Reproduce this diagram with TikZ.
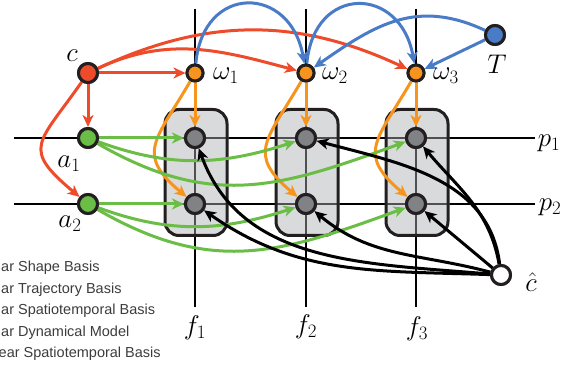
\RequirePackage{fix-cm}
\documentclass[tikz,border=0pt]{standalone}
\usepackage{fontspec}
\newfontfamily\legendfont{Liberation Sans}
\usetikzlibrary{arrows.meta}
\definecolor{cred}{HTML}{EE4B2B}
\definecolor{corange}{HTML}{F7941D}
\definecolor{cgreen}{HTML}{6ABD45}
\definecolor{cblue}{HTML}{4A7BC6}
\definecolor{cgray}{HTML}{808285}
\definecolor{cbox}{HTML}{D9DADB}
\definecolor{cdark}{HTML}{231F20}
\definecolor{cinner}{HTML}{505052}
\definecolor{clegend}{HTML}{3C3C3C}
\tikzset{
  var/.style={circle, draw=cdark, line width=3pt, minimum size=19pt, inner sep=0pt},
  wnode/.style={var, fill=corange, minimum size=16pt},
  obsnode/.style={var, fill=cgray},
  boxnode/.style={rectangle, rounded corners=14pt, draw=cdark, line width=3pt, minimum width=62pt, minimum height=126pt, inner sep=0pt},
  axis/.style={line width=2.2pt, black},
  inner/.style={line width=1.2pt, cinner},
  tip/.style={-{Stealth[length=12pt,width=11pt,inset=3.5pt]}},
  edgered/.style={tip, line width=3pt, cred},
  edgeorange/.style={tip, line width=3pt, corange},
  edgegreen/.style={tip, line width=3pt, cgreen},
  edgeblue/.style={tip, line width=3pt, cblue},
  edgeblack/.style={tip, line width=3pt, black},
  lbl/.style={font=\fontsize{27}{32}\selectfont, inner sep=0pt},
  legend/.style={font=\legendfont\fontsize{14.5}{17}\selectfont, text=clegend, anchor=base west, inner sep=0pt},
}
\begin{document}
\begin{tikzpicture}[x=1pt,y=1pt]
\useasboundingbox (0,0) rectangle (576,366);
% axis end points
\coordinate (p1l) at (14,228); \coordinate (p1r) at (535,228);
\coordinate (p2l) at (14,162); \coordinate (p2r) at (535,162);
\coordinate (f1t) at (195,357); \coordinate (f1b) at (195,59);
\coordinate (f2t) at (306,357); \coordinate (f2b) at (306,59);
\coordinate (f3t) at (416,357); \coordinate (f3b) at (416,59);
\draw[axis] (p1l) -- (p1r);
\draw[axis] (p2l) -- (p2r);
\draw[axis] (f1t) -- (f1b);
\draw[axis] (f2t) -- (f2b);
\draw[axis] (f3t) -- (f3b);
% boxes
\foreach \i/\x in {1/196, 2/307, 3/417}{
  \node[boxnode, fill=cbox, draw=none] (b\i) at (\x,193.5) {};
  \draw[inner] (b\i.north -| f\i t) -- (b\i.south -| f\i t);
  \draw[inner] (b\i.west |- p1l) -- (b\i.east |- p1l);
  \draw[inner] (b\i.west |- p2l) -- (b\i.east |- p2l);
  \node[boxnode] at (b\i) {};
}
% nodes
\node[var, fill=cred] (c) at (88,293) {};
\node[wnode] (w1) at (195,293) {};
\node[wnode] (w2) at (306,293) {};
\node[wnode] (w3) at (416,293) {};
\node[var, fill=cblue] (T) at (495,331) {};
\node[var, fill=cgreen] (a1) at (88,228) {};
\node[var, fill=cgreen] (a2) at (88,162) {};
\node[obsnode] (o11) at (195,228) {};
\node[obsnode] (o12) at (195,162) {};
\node[obsnode] (o21) at (306,228) {};
\node[obsnode] (o22) at (306,162) {};
\node[obsnode] (o31) at (416,228) {};
\node[obsnode] (o32) at (416,162) {};
\node[var, fill=white] (ch) at (501,91) {};
% red edges
\draw[edgered] (c) -- (w1);
\draw[edgered] (c) -- (a1);
\draw[edgered] (c) to[out=235, in=140, looseness=1.7] (a2);
\draw[edgered] (c) to[out=25, in=165] (w2);
\draw[edgered] (c) to[out=25, in=155] (w3);
% blue edges
\draw[edgeblue] (w1) to[out=85, in=100, looseness=1.9] (w2);
\draw[edgeblue] (w2) to[out=85, in=100, looseness=1.9] (w3);
\draw[edgeblue] (T) to[out=155, in=35, looseness=1.1] (w2);
\draw[edgeblue] (T) -- (w3);
% orange edges
\foreach \i in {1,2,3}{
  \draw[edgeorange] (w\i) -- (o\i1);
  \draw[edgeorange] (w\i) to[out=240, in=140, looseness=1.5] (o\i2);
}
% green edges
\draw[edgegreen] (a1) -- (o11);
\draw[edgegreen] (a1) to[out=-20, in=198] (o21);
\draw[edgegreen] (a1) to[out=-30, in=200, looseness=1.1] (o31);
\draw[edgegreen] (a2) -- (o12);
\draw[edgegreen] (a2) to[out=-20, in=198] (o22);
\draw[edgegreen] (a2) to[out=-30, in=200, looseness=1.1] (o32);
% black edges
\draw[edgeblack] (ch) -- (o32);
\draw[edgeblack] (ch) to[out=100, in=-50] (o31);
\draw[edgeblack] (ch) to[out=97, in=-15] (o21);
\draw[edgeblack] (ch) to[out=165, in=-40] (o22);
\draw[edgeblack] (ch) to[out=175, in=-70] (o11);
\draw[edgeblack] (ch) to[out=178, in=-35] (o12);
% redraw nodes on top
\node[var, fill=cred] at (c) {};
\node[wnode] at (w1) {};
\node[wnode] at (w2) {};
\node[wnode] at (w3) {};
\node[var, fill=cblue] at (T) {};
\node[var, fill=cgreen] at (a1) {};
\node[var, fill=cgreen] at (a2) {};
\node[obsnode] at (o11) {};
\node[obsnode] at (o12) {};
\node[obsnode] at (o21) {};
\node[obsnode] at (o22) {};
\node[obsnode] at (o31) {};
\node[obsnode] at (o32) {};
\node[var, fill=white] at (ch) {};
% labels
\node[lbl] (lc) at (72,310) {$c$};
\node[lbl] (lw1) at (226,290) {$\omega_1$};
\node[lbl] (lw2) at (335,290) {$\omega_2$};
\node[lbl] (lw3) at (446,290) {$\omega_3$};
\node[lbl] (lT) at (497,302) {$T$};
\node[lbl] (la1) at (69,202) {$a_1$};
\node[lbl] (la2) at (70,142) {$a_2$};
\node[lbl] (lp1) at (549,223) {$p_1$};
\node[lbl] (lp2) at (550,159) {$p_2$};
\node[lbl] (lf1) at (195,38) {$f_1$};
\node[lbl] (lf2) at (306,39) {$f_2$};
\node[lbl] (lf3) at (417,37) {$f_3$};
\node[lbl] (lch) at (531,84) {$\hat{c}$};
% legend (cut off at the left edge)
\node[legend] (g1) at (1,94.3) {ar Shape Basis};
\node[legend] (g2) at (1,72.7) {ar Trajectory Basis};
\node[legend] (g3) at (1,51) {ar Spatiotemporal Basis};
\node[legend] (g4) at (1,29.3) {ar Dynamical Model};
\node[legend] (g5) at (-1.5,8) {ear Spatiotemporal Basis};
\end{tikzpicture}
\end{document}
